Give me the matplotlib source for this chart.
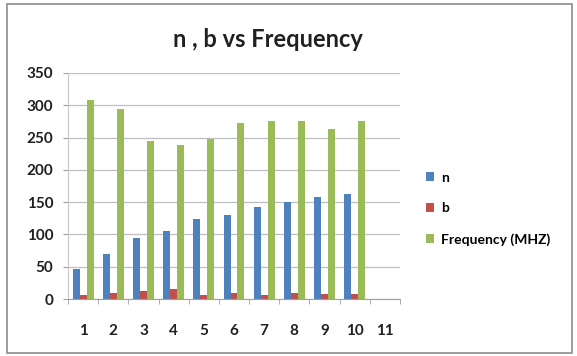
import numpy as np
import matplotlib
matplotlib.use("Agg")
import matplotlib.pyplot as plt
from matplotlib.patches import Rectangle

plt.rcParams['font.family'] = ['Lato', 'DejaVu Sans']

# data
categories = ['1', '2', '3', '4', '5', '6', '7', '8', '9', '10', '11']
n_vals = [47, 70, 95, 106, 124, 130, 143, 151, 158, 163]
b_vals = [6, 9, 13, 16, 6, 9, 6, 9, 8, 8]
freq_vals = [308, 294, 244, 239, 248, 273, 275, 276, 264, 275]

series = [('n', n_vals, '#4F81BD'),
          ('b', b_vals, '#C0504D'),
          ('Frequency (MHZ)', freq_vals, '#9BBB59')]

fig = plt.figure(figsize=(5.77, 3.56), dpi=100)
# outer chart border like Excel
fig.patches.append(Rectangle((0.012, 0.008), 0.980, 0.982, transform=fig.transFigure,
                             fill=False, edgecolor='#8C8C8C', linewidth=1.2))

ax = fig.add_axes([0.118, 0.160, 0.575, 0.635])

w = 0.23
x = np.arange(len(n_vals))
for i, (name, vals, col) in enumerate(series):
    ax.bar(x + (i - 1) * 0.23, vals, width=w, color=col, label=name, zorder=3)

ax.set_xlim(-0.5, len(categories) - 0.5)
ax.set_ylim(0, 350)
ax.set_yticks(np.arange(0, 351, 50))
ax.set_xticks(np.arange(len(categories)))
ax.set_xticklabels(categories)
ax.set_xticks(np.arange(len(categories) + 1) - 0.5, minor=True)
ax.tick_params(axis='x', which='major', length=0, pad=18, labelsize=11)
ax.tick_params(axis='x', which='minor', length=3.5, color='#A0A0A0', direction='out')
ax.tick_params(axis='y', length=3.5, color='#A0A0A0', labelsize=11, pad=7)
for lab in ax.get_xticklabels() + ax.get_yticklabels():
    lab.set_fontweight('bold')
    lab.set_color('#202020')

ax.grid(axis='y', color='#BFBFBF', linewidth=0.9, zorder=0)
for s in ['top', 'right']:
    ax.spines[s].set_visible(False)
ax.spines['left'].set_color('#C8C8C8')
ax.spines['bottom'].set_color('#A0A0A0')

fig.text(0.465, 0.888, 'n , b vs Frequency', ha='center', va='center',
         fontsize=17, fontweight='bold', color='#202020')

leg = ax.legend(loc='center left', bbox_to_anchor=(1.04, 0.40), frameon=False,
                handlelength=0.6, handleheight=0.6, handletextpad=0.5,
                labelspacing=1.35, prop={'size': 10, 'weight': 'bold'})

plt.savefig('out.png', dpi=100)
